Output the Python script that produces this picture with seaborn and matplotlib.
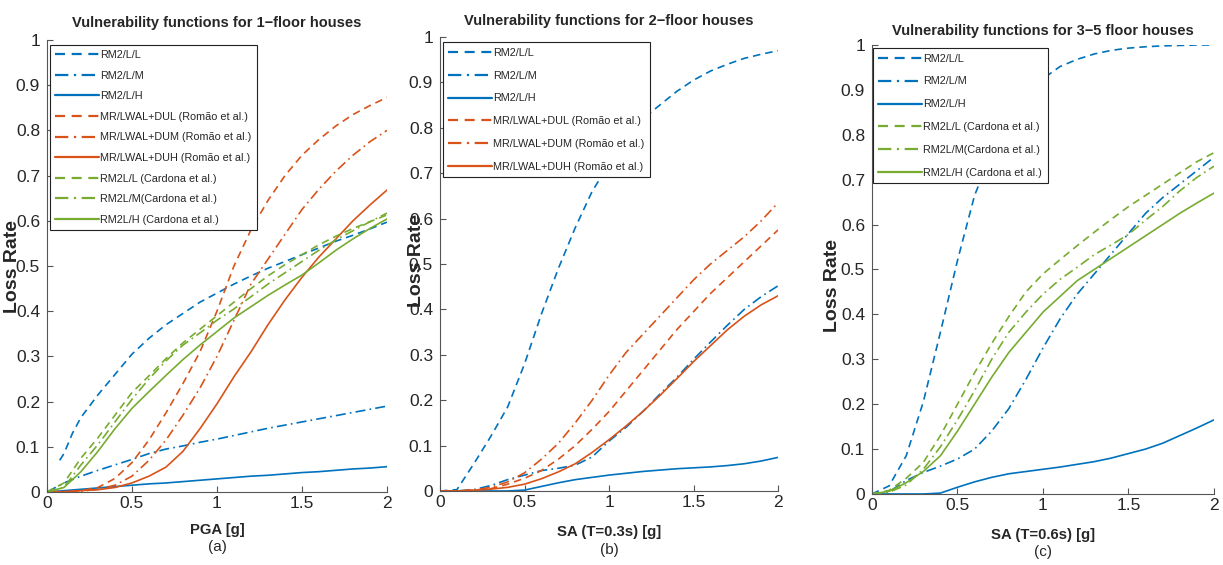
import matplotlib
matplotlib.use("Agg")
import matplotlib.pyplot as plt
import seaborn as sns
from matplotlib.ticker import FormatStrFormatter

sns.set_style("ticks")
plt.rcParams['font.family'] = ['Liberation Sans', 'DejaVu Sans']

# MATLAB default colours
blue = '#0072BD'
orange = '#D95319'
green = '#77AC30'

# common abscissa (g)
x_grid = [0.0, 0.1, 0.2, 0.3, 0.4, 0.5, 0.6, 0.7, 0.8, 0.9, 1.0,
          1.1, 1.2, 1.3, 1.4, 1.5, 1.6, 1.7, 1.8, 1.9, 2.0]

# (a) 1-floor houses, PGA
pga_rm2_l_x = [0.075, 0.1, 0.15, 0.2, 0.3, 0.4, 0.5, 0.6, 0.7, 0.8, 0.9, 1.0,
               1.1, 1.2, 1.3, 1.4, 1.5, 1.6, 1.7, 1.8, 1.9, 2.0]
pga_rm2_l = [0.07, 0.085, 0.13, 0.165, 0.215, 0.26, 0.305, 0.34, 0.37, 0.395, 0.42, 0.44,
             0.46, 0.478, 0.495, 0.51, 0.525, 0.54, 0.555, 0.568, 0.582, 0.597]
pga_rm2_m = [0, 0.02, 0.035, 0.048, 0.06, 0.072, 0.085, 0.095, 0.102, 0.11, 0.117,
             0.125, 0.133, 0.141, 0.148, 0.155, 0.162, 0.169, 0.176, 0.183, 0.19]
pga_rm2_h = [0, 0.003, 0.006, 0.009, 0.012, 0.015, 0.018, 0.02, 0.023, 0.026, 0.029,
             0.032, 0.035, 0.037, 0.04, 0.043, 0.045, 0.048, 0.051, 0.053, 0.056]
pga_dul = [0, 0, 0.003, 0.01, 0.03, 0.065, 0.115, 0.175, 0.24, 0.31, 0.40,
           0.50, 0.58, 0.645, 0.70, 0.745, 0.78, 0.81, 0.835, 0.855, 0.873]
pga_dum = [0, 0, 0.002, 0.006, 0.015, 0.035, 0.07, 0.115, 0.17, 0.23, 0.30,
           0.38, 0.46, 0.515, 0.57, 0.625, 0.67, 0.71, 0.745, 0.775, 0.80]
pga_duh = [0, 0.001, 0.003, 0.005, 0.01, 0.02, 0.035, 0.055, 0.09, 0.14, 0.195,
           0.255, 0.31, 0.37, 0.425, 0.475, 0.52, 0.56, 0.60, 0.635, 0.668]
pga_card_l = [0, 0.02, 0.075, 0.12, 0.17, 0.22, 0.257, 0.295, 0.33, 0.36, 0.39,
              0.42, 0.45, 0.478, 0.503, 0.525, 0.547, 0.566, 0.583, 0.598, 0.613]
pga_card_m = [0, 0.01, 0.06, 0.105, 0.155, 0.205, 0.25, 0.29, 0.325, 0.352, 0.38,
              0.405, 0.432, 0.46, 0.485, 0.51, 0.535, 0.558, 0.578, 0.598, 0.617]
pga_card_h = [0, 0.01, 0.045, 0.09, 0.14, 0.185, 0.222, 0.258, 0.293, 0.325, 0.355,
              0.385, 0.41, 0.435, 0.458, 0.48, 0.507, 0.535, 0.56, 0.583, 0.604]

# (b) 2-floor houses, SA(T=0.3s)
sa03_rm2_l = [0, 0.003, 0.06, 0.12, 0.185, 0.28, 0.39, 0.49, 0.58, 0.66, 0.72,
              0.775, 0.82, 0.85, 0.88, 0.905, 0.925, 0.94, 0.953, 0.962, 0.97]
sa03_rm2_m = [0, 0, 0.003, 0.012, 0.025, 0.035, 0.045, 0.05, 0.057, 0.075, 0.11,
              0.14, 0.175, 0.213, 0.25, 0.29, 0.328, 0.365, 0.4, 0.428, 0.452]
sa03_rm2_h = [0, 0, 0, 0, 0, 0.002, 0.01, 0.018, 0.025, 0.03, 0.035,
              0.039, 0.043, 0.046, 0.049, 0.051, 0.053, 0.056, 0.06, 0.066, 0.074]
sa03_dul = [0, 0, 0.002, 0.005, 0.015, 0.028, 0.045, 0.07, 0.1, 0.136, 0.175,
            0.22, 0.265, 0.31, 0.355, 0.395, 0.435, 0.47, 0.505, 0.54, 0.575]
sa03_dum = [0, 0, 0.002, 0.008, 0.02, 0.04, 0.07, 0.105, 0.15, 0.2, 0.255,
            0.305, 0.345, 0.385, 0.425, 0.465, 0.5, 0.53, 0.56, 0.595, 0.635]
sa03_duh = [0, 0, 0.002, 0.004, 0.008, 0.015, 0.027, 0.042, 0.06, 0.085, 0.113,
            0.143, 0.175, 0.21, 0.247, 0.285, 0.32, 0.355, 0.385, 0.41, 0.43]

# (c) 3-5 floor houses, SA(T=0.6s)
sa06_rm2_l = [0, 0.018, 0.085, 0.205, 0.36, 0.52, 0.665, 0.76, 0.83, 0.885, 0.925,
              0.952, 0.968, 0.98, 0.988, 0.993, 0.996, 0.998, 0.999, 1.0, 1.0]
sa06_rm2_m = [0, 0.005, 0.03, 0.048, 0.062, 0.078, 0.1, 0.14, 0.19, 0.255, 0.325,
              0.39, 0.445, 0.49, 0.535, 0.58, 0.625, 0.66, 0.69, 0.72, 0.75]
sa06_rm2_h = [0, 0, 0, 0, 0.002, 0.015, 0.027, 0.037, 0.045, 0.05, 0.055,
              0.06, 0.066, 0.072, 0.08, 0.09, 0.1, 0.113, 0.13, 0.147, 0.165]
sa06_card_l = [0, 0.008, 0.035, 0.07, 0.13, 0.2, 0.27, 0.335, 0.395, 0.45, 0.49,
               0.522, 0.553, 0.583, 0.612, 0.64, 0.665, 0.69, 0.715, 0.74, 0.76]
sa06_card_m = [0, 0.004, 0.02, 0.055, 0.105, 0.165, 0.23, 0.3, 0.36, 0.405, 0.445,
               0.478, 0.505, 0.533, 0.555, 0.578, 0.61, 0.64, 0.675, 0.705, 0.73]
sa06_card_h = [0, 0.006, 0.025, 0.05, 0.085, 0.14, 0.2, 0.26, 0.315, 0.36, 0.405,
               0.44, 0.475, 0.50, 0.525, 0.55, 0.575, 0.6, 0.625, 0.648, 0.67]

lbl_l, lbl_m, lbl_h = 'RM2/L/L', 'RM2/L/M', 'RM2/L/H'
lbl_dul = 'MR/LWAL+DUL (Romão et al.)'
lbl_dum = 'MR/LWAL+DUM (Romão et al.)'
lbl_duh = 'MR/LWAL+DUH (Romão et al.)'
lbl_cl = 'RM2L/L (Cardona et al.)'
lbl_cm = 'RM2L/M(Cardona et al.)'
lbl_ch = 'RM2L/H (Cardona et al.)'

dashed = (0, (4.5, 3))
dashdot = (0, (6, 2.5, 1, 2.5))
solid = '-'

axis_grey = '#555555'
text_grey = '#262626'


def curve(ax, x, y, color, style, label):
    sns.lineplot(x=x, y=y, color=color, linestyle=style, linewidth=1.2,
                 label=label, ax=ax, sort=False, errorbar=None)


def style_axes(ax, title, title_y, xlabel, letter, ylab_x, ylab_y, lab_y, letter_y,
               leg_anchor, leg_spacing):
    ax.set_xlim(0, 2)
    ax.set_ylim(0, 1)
    ax.set_xticks([0, 0.5, 1, 1.5, 2])
    ax.set_yticks([i / 10 for i in range(11)])
    ax.xaxis.set_major_formatter(FormatStrFormatter('%g'))
    ax.yaxis.set_major_formatter(FormatStrFormatter('%g'))
    ax.tick_params(direction='in', length=4, width=0.8, color=axis_grey,
                   labelcolor=text_grey, labelsize=12.5)
    ax.tick_params(axis='x', pad=3)
    ax.tick_params(axis='y', pad=5)
    for s in ['top', 'right']:
        ax.spines[s].set_visible(False)
    for s in ['left', 'bottom']:
        ax.spines[s].set_color(axis_grey)
        ax.spines[s].set_linewidth(0.8)
    ax.set_title(title, fontsize=10.5, fontweight='bold', color=text_grey, y=title_y, pad=0)
    ax.set_xlabel(xlabel, fontsize=10.7, fontweight='bold', color=text_grey)
    ax.xaxis.set_label_coords(0.5, lab_y)
    ax.xaxis.label.set_va('top')
    ax.text(0.5, letter_y, letter, transform=ax.transAxes, ha='center', va='top',
            fontsize=11, color=text_grey)
    ax.set_ylabel('Loss Rate', fontsize=14, fontweight='bold', color=text_grey)
    ax.yaxis.set_label_coords(ylab_x, ylab_y)
    leg = ax.legend(loc='upper left', bbox_to_anchor=leg_anchor, borderaxespad=0,
                    fontsize=7.8, handlelength=4.0, handletextpad=0.15,
                    labelspacing=leg_spacing, fancybox=False, framealpha=1,
                    edgecolor='#222222', borderpad=0.5)
    leg.get_frame().set_linewidth(0.8)
    for t in leg.get_texts():
        t.set_color(text_grey)
    for h in leg.legend_handles:
        h.set_linewidth(1.6)


fig = plt.figure(figsize=(12.23, 5.65), dpi=100)
ax1 = fig.add_axes([0.0384, 0.1292, 0.2780, 0.8000])
ax2 = fig.add_axes([0.3598, 0.1310, 0.2764, 0.8035])
ax3 = fig.add_axes([0.7130, 0.1257, 0.2796, 0.7947])

# panel (a)
curve(ax1, pga_rm2_l_x, pga_rm2_l, blue, dashed, lbl_l)
curve(ax1, x_grid, pga_rm2_m, blue, dashdot, lbl_m)
curve(ax1, x_grid, pga_rm2_h, blue, solid, lbl_h)
curve(ax1, x_grid, pga_dul, orange, dashed, lbl_dul)
curve(ax1, x_grid, pga_dum, orange, dashdot, lbl_dum)
curve(ax1, x_grid, pga_duh, orange, solid, lbl_duh)
curve(ax1, x_grid, pga_card_l, green, dashed, lbl_cl)
curve(ax1, x_grid, pga_card_m, green, dashdot, lbl_cm)
curve(ax1, x_grid, pga_card_h, green, solid, lbl_ch)
style_axes(ax1, 'Vulnerability functions for 1\u2212floor houses', 1.029, 'PGA [g]', '(a)',
           -0.076, 0.50, -0.069, -0.106, (0.009, 0.99), 0.98)

# panel (b)
curve(ax2, x_grid, sa03_rm2_l, blue, dashed, lbl_l)
curve(ax2, x_grid, sa03_rm2_m, blue, dashdot, lbl_m)
curve(ax2, x_grid, sa03_rm2_h, blue, solid, lbl_h)
curve(ax2, x_grid, sa03_dul, orange, dashed, lbl_dul)
curve(ax2, x_grid, sa03_dum, orange, dashdot, lbl_dum)
curve(ax2, x_grid, sa03_duh, orange, solid, lbl_duh)
style_axes(ax2, 'Vulnerability functions for 2\u2212floor houses', 1.026, 'SA (T=0.3s) [g]', '(b)',
           -0.044, 0.507, -0.075, -0.115, (0.009, 0.988), 1.18)

# panel (c)
curve(ax3, x_grid, sa06_rm2_l, blue, dashed, lbl_l)
curve(ax3, x_grid, sa06_rm2_m, blue, dashdot, lbl_m)
curve(ax3, x_grid, sa06_rm2_h, blue, solid, lbl_h)
curve(ax3, x_grid, sa06_card_l, green, dashed, lbl_cl)
curve(ax3, x_grid, sa06_card_m, green, dashdot, lbl_cm)
curve(ax3, x_grid, sa06_card_h, green, solid, lbl_ch)
style_axes(ax3, 'Vulnerability functions for 3\u22125 floor houses', 1.022, 'SA (T=0.6s) [g]', '(c)',
           -0.09, 0.465, -0.076, -0.114, (0.003, 0.993), 1.19)

fig.savefig('out.png', dpi=100)
